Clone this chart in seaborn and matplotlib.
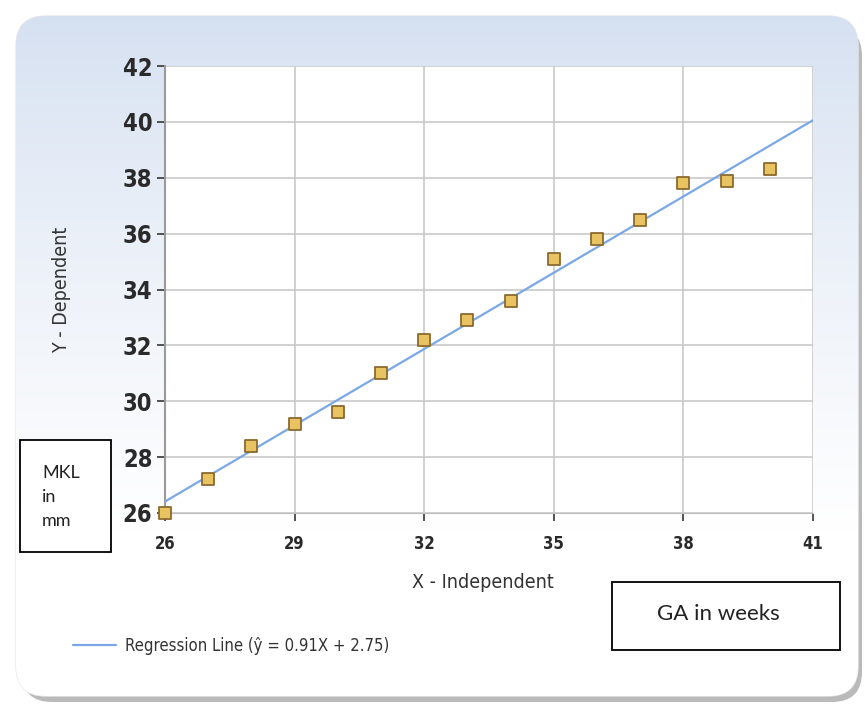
import numpy as np
import pandas as pd
import seaborn as sns
import matplotlib.pyplot as plt
from matplotlib.patches import FancyBboxPatch, Rectangle

# GA in weeks vs MKL in mm
ga_weeks = [26, 27, 28, 29, 30, 31, 32, 33, 34, 35, 36, 37, 38, 39, 40]
mkl_mm = [26.0, 27.2, 28.4, 29.2, 29.6, 31.0, 32.2, 32.9, 33.6, 35.1, 35.8, 36.5, 37.8, 37.9, 38.3]
slope = 0.91
intercept = 2.75
line_x = [26, 41]
x_ticks = [26, 29, 32, 35, 38, 41]
y_ticks = [26, 28, 30, 32, 34, 36, 38, 40, 42]

df = pd.DataFrame({"x": ga_weeks, "y": mkl_mm})
reg = pd.DataFrame({"x": line_x, "y": [slope * v + intercept for v in line_x]})

sns.set_style("whitegrid")
plt.rcParams['font.family'] = ['DejaVu Sans']
plt.rcParams['font.stretch'] = 'condensed'

fig = plt.figure(figsize=(8.65, 7.1), dpi=100)

# background panel with gradient and shadow
bg = fig.add_axes([0, 0, 1, 1])
bg.set_xlim(0, 865)
bg.set_ylim(710, 0)
bg.axis("off")
shadow = FancyBboxPatch((22, 26), 840, 676, boxstyle="round,pad=0,rounding_size=30",
                        facecolor="#8c8c8c", edgecolor="none", alpha=0.6)
bg.add_patch(shadow)
panel = FancyBboxPatch((16, 16), 842, 680, boxstyle="round,pad=0,rounding_size=30",
                       facecolor="none", edgecolor="#e6e9ee", linewidth=1)
bg.add_patch(panel)
grad = np.linspace(0, 1, 256).reshape(-1, 1)
grad = np.clip(grad ** 0.8 * 1.25, 0, 1)
top_c = np.array([0.835, 0.878, 0.945])
bot_c = np.array([1.0, 1.0, 1.0])
img = top_c + (bot_c - top_c) * grad[..., None]
im = bg.imshow(img, extent=[16, 858, 696, 16], aspect="auto", zorder=1)
im.set_clip_path(panel)

ax = fig.add_axes([165 / 865, 1 - 513 / 710, (813 - 165) / 865, (513 - 66) / 710])
ax.set_facecolor("white")

sns.lineplot(data=reg, x="x", y="y", ax=ax, color="#7aa8e6", linewidth=1.6,
             label="Regression Line (ŷ = 0.91X + 2.75)", zorder=3)
sns.scatterplot(data=df, x="x", y="y", ax=ax, marker="s", s=65, color="#e9c262",
                edgecolor="#8b6a2e", linewidth=1.3, zorder=4, legend=False, clip_on=False)

ax.set_xlim(26, 41)
ax.set_ylim(26, 42)
ax.set_xticks(x_ticks)
ax.set_yticks(y_ticks)
ax.grid(True, color="#c9c9c9", linewidth=1.2)
for s in ["top", "right"]:
    ax.spines[s].set_visible(False)
ax.spines["left"].set_color("#9a9a9a")
ax.spines["bottom"].set_color("#bdbdbd")
ax.spines["left"].set_linewidth(1.5)
ax.tick_params(axis="y", which="major", length=6, width=1.3, color="#444444",
               labelsize=17, pad=3, left=True)
ax.tick_params(axis="x", which="major", length=6, width=1.3, color="#444444",
               labelsize=12, pad=10, bottom=True)
for lab in ax.get_yticklabels():
    lab.set_fontweight("bold")
    lab.set_color("#2a2a2a")
for lab in ax.get_xticklabels():
    lab.set_fontweight("bold")
    lab.set_color("#2a2a2a")

ax.set_xlabel("X - Independent", fontsize=14, color="#333333")
ax.set_ylabel("Y - Dependent", fontsize=14, color="#333333")
ax.yaxis.set_label_coords(-0.145, 0.5)
ax.xaxis.set_label_coords(0.49, -0.135)

leg = ax.legend(loc="upper left", bbox_to_anchor=(-0.165, -0.243), frameon=False,
                fontsize=12, handlelength=2.6, handletextpad=0.5, labelcolor="#333333")

# annotation boxes
box_font = ['Lato', 'Open Sans', 'DejaVu Sans']
bg.add_patch(Rectangle((20, 440), 91, 112, facecolor="white", edgecolor="black",
                       linewidth=1.3, zorder=5))
bg.text(42, 497, "MKL\nin\nmm", fontsize=13, family=box_font, stretch="normal",
        va="center", ha="left", linespacing=1.6, color="#222222", zorder=6)
bg.add_patch(Rectangle((612, 582), 228, 68, facecolor="white", edgecolor="black",
                       linewidth=1.3, zorder=5))
bg.text(718, 614, "GA in weeks", fontsize=16, family=box_font, stretch="normal",
        va="center", ha="center", color="#222222", zorder=6)

fig.savefig("out.png", dpi=100)
